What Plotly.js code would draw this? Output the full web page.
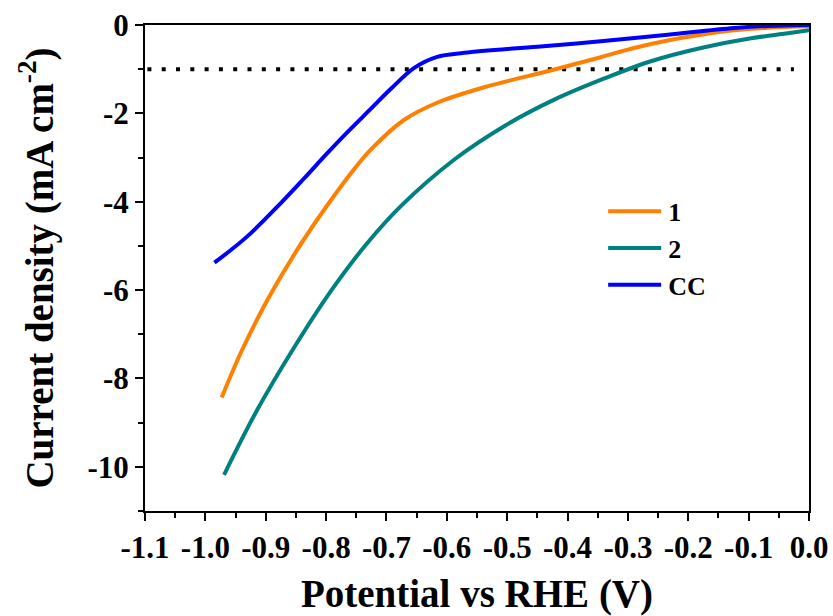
<!DOCTYPE html>
<html>
<head>
<meta charset="utf-8">
<script src="https://cdn.plot.ly/plotly-3.0.1.min.js"></script>
<style>
html, body { margin: 0; padding: 0; background: #fff; }
#chart { width: 833px; height: 616px; }
</style>
</head>
<body>
<div id="chart"></div>
<script>
// Sample 1 (orange)
const x1 = [-0.973, -0.939, -0.897, -0.848, -0.798, -0.754, -0.726, -0.671, -0.616, -0.533, -0.428, -0.345, -0.290, -0.234, -0.179, -0.124, -0.068, 0.000];
const y1 = [-8.43, -7.35, -6.22, -5.09, -4.08, -3.27, -2.82, -2.15, -1.76, -1.39, -1.03, -0.73, -0.52, -0.35, -0.22, -0.12, -0.06, -0.03];
// Sample 2 (teal)
const x2 = [-0.969, -0.914, -0.853, -0.793, -0.732, -0.677, -0.588, -0.505, -0.422, -0.339, -0.262, -0.179, -0.096, -0.041, 0.000];
const y2 = [-10.18, -8.71, -7.30, -6.04, -4.94, -4.11, -3.05, -2.29, -1.69, -1.21, -0.82, -0.52, -0.30, -0.20, -0.12];
// CC (blue)
const xCC = [-0.985, -0.931, -0.875, -0.837, -0.798, -0.765, -0.726, -0.693, -0.654, -0.616, -0.571, -0.450, -0.345, -0.234, -0.124, -0.068, 0.000];
const yCC = [-5.38, -4.79, -4.03, -3.48, -2.90, -2.43, -1.90, -1.45, -0.97, -0.72, -0.63, -0.49, -0.37, -0.22, -0.07, -0.02, 0.00];
// Reference line at -1 mA cm-2
const xRef = [-1.096, -0.025];
const yRef = [-1, -1];

const seriesNames = ["1", "2", "CC"];
const xTickVals = [-1.1, -1.0, -0.9, -0.8, -0.7, -0.6, -0.5, -0.4, -0.3, -0.2, -0.1, 0.0];
const xTickText = ["-1.1", "-1.0", "-0.9", "-0.8", "-0.7", "-0.6", "-0.5", "-0.4", "-0.3", "-0.2", "-0.1", "0.0"];
const yTickVals = [0, -2, -4, -6, -8, -10];
const yTickText = ["0", "-2", "-4", "-6", "-8", "-10"];

const FONT = "Liberation Serif, Times New Roman, serif";

const data = [
  { x: xRef, y: yRef, mode: "lines", showlegend: false, hoverinfo: "skip",
    line: { color: "#000000", width: 4, dash: "4px,10.3px" } },
  { x: x1, y: y1, mode: "lines", name: seriesNames[0],
    line: { color: "#FF8000", width: 4, shape: "spline", smoothing: 1 } },
  { x: x2, y: y2, mode: "lines", name: seriesNames[1],
    line: { color: "#008080", width: 4, shape: "spline", smoothing: 1 } },
  { x: xCC, y: yCC, mode: "lines", name: seriesNames[2],
    line: { color: "#0000FF", width: 4, shape: "spline", smoothing: 1 } }
];

const axisCommon = {
  showline: true, linecolor: "#000", linewidth: 2, mirror: true,
  showgrid: false, zeroline: false,
  ticks: "outside", ticklen: 8, tickwidth: 2, tickcolor: "#000",
  tickfont: { family: FONT, size: 31, color: "#000", weight: "bold" }
};

const layout = {
  width: 833, height: 616,
  margin: { l: 145, r: 24, t: 25, b: 105 },
  paper_bgcolor: "#fff", plot_bgcolor: "#fff",
  font: { family: FONT, color: "#000" },
  xaxis: Object.assign({}, axisCommon, {
    range: [-1.1, 0.0],
    tickmode: "array", tickvals: xTickVals, ticktext: xTickText,
    minor: { ticks: "outside", ticklen: 5, tickwidth: 2, tickcolor: "#000", dtick: 0.05, tick0: 0, showgrid: false },
    title: { text: "Potential vs RHE (V)", standoff: 21,
             font: { family: FONT, size: 39, color: "#000", weight: "bold" } }
  }),
  yaxis: Object.assign({}, axisCommon, {
    range: [-11, 0],
    tickmode: "array", tickvals: yTickVals, ticktext: yTickText,
    minor: { ticks: "outside", ticklen: 5, tickwidth: 2, tickcolor: "#000", dtick: 1, tick0: 0, showgrid: false },
    title: { text: "Current density (mA cm<sup>-2</sup>)", standoff: 22,
             font: { family: FONT, size: 39, color: "#000", weight: "bold" } }
  }),
  legend: {
    x: 0.69, y: 0.665, xanchor: "left", yanchor: "top",
    bgcolor: "rgba(0,0,0,0)", borderwidth: 0,
    itemwidth: 55,
    font: { family: FONT, size: 26, color: "#000", weight: "bold" }
  },
  showlegend: true
};

Plotly.newPlot("chart", data, layout, { staticPlot: true, displayModeBar: false }).then(function (gd) {
  gd.querySelectorAll(".legend .legendlines path").forEach(function (p) {
    p.setAttribute("d", "M5,0h53");
  });
});
</script>
</body>
</html>
